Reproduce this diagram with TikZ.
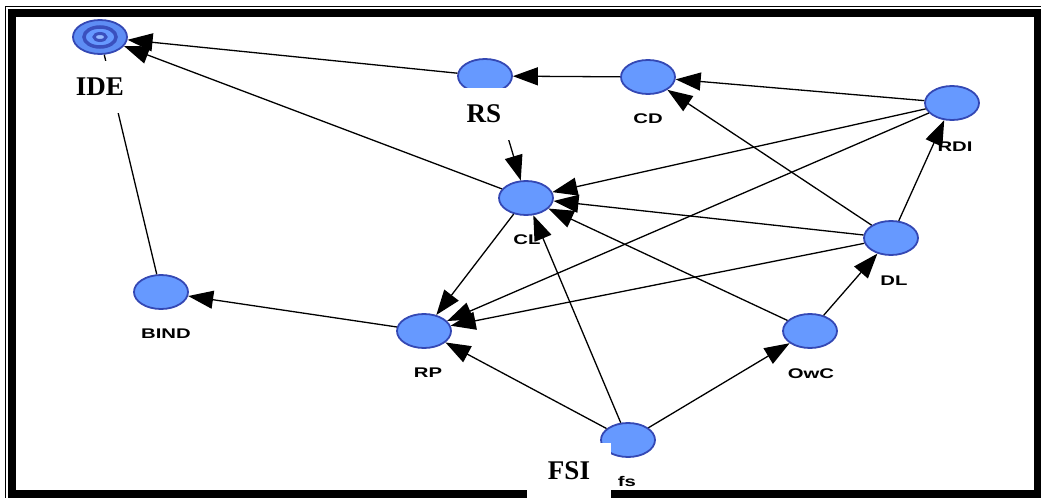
\documentclass[tikz,border=0pt]{standalone}
\usepackage{fontspec}
\setmainfont{Liberation Serif}
\newfontfamily\nodefont[FakeStretch=1.45]{Liberation Sans}
\usetikzlibrary{shapes.geometric, arrows.meta, positioning}
\definecolor{ballfill}{RGB}{102,153,255}
\definecolor{ballrim}{RGB}{52,72,180}
\definecolor{ringblue}{RGB}{58,80,190}

\begin{document}
\begin{tikzpicture}[x=1pt, y=-1pt,
    ball/.style={ellipse, draw=ballrim, fill=ballfill, line width=1.8pt, minimum width=54pt, minimum height=34pt, inner sep=0pt},
    lbl/.style={anchor=base, inner sep=0pt, font=\nodefont\bfseries\fontsize{14}{16}\selectfont},
    tag/.style={fill=white, inner sep=0pt, font=\bfseries\fontsize{27}{30}\selectfont},
    link/.style={line width=1.3pt, -{Triangle[length=25pt,width=18pt]}},
    plain/.style={line width=1.3pt}
]
\useasboundingbox (0,0) rectangle (1041,498);

% Frame
\draw[line width=8pt] (12,13) rectangle (1038,494);
\draw[line width=1.2pt] (1041,6.5) -- (5.5,6.5) -- (5.5,498);

% Nodes
\node[ball, fill=ballfill!85!ballrim] (ide) at (100,37) {};
\node[ball] (rs) at (485,76) {};
\node[ball] (cd) at (648,77) {};
\node[ball] (rdi) at (952,103) {};
\node[ball] (dl) at (891,238) {};
\node[ball] (cl) at (526,198) {};
\node[ball] (rp) at (424,331) {};
\node[ball] (bind) at (161,292) {};
\node[ball] (owc) at (810,331) {};
\node[ball] (fs) at (628,440) {};

% Target rings
\draw[ringblue, fill=ballfill, line width=3.5pt] (ide.center) ellipse (16pt and 10pt);
\draw[ringblue, fill=ballfill!70!white, line width=3pt] (ide.center) ellipse (6pt and 3.5pt);

% Edges
\draw[link] (rs) -- (ide);
\draw[link] (cl) -- (ide);
\draw[plain] (bind) -- (ide);
\draw[link] (cd) -- (rs);
\draw[link] (rdi) -- (cd);
\draw[link] (dl) -- (cd);
\draw[link] (rdi) -- (cl);
\draw[link] (rdi) -- (rp);
\draw[link] (dl) -- (cl);
\draw[link] (dl) -- (rp);
\draw[link] (dl) -- (rdi);
\draw[link] (owc) -- (dl);
\draw[link] (owc) -- (cl);
\draw[link] (fs) -- (cl);
\draw[link] (fs) -- (rp);
\draw[link] (fs) -- (owc);
\draw[link] (cl) -- (rp);
\draw[link] (rp) -- (bind);
\draw[link] (rs.-60) -- (cl);

% Labels
\node[lbl] (cdlbl) at (648,123) {CD};
\node[lbl] (rdilbl) at (955,151) {RDI};
\node[lbl] (dllbl) at (894,285) {DL};
\node[lbl] (cllbl) at (527,244) {CL};
\node[lbl] (rplbl) at (428,377) {RP};
\node[lbl] (bindlbl) at (166,338) {BIND};
\node[lbl] (owclbl) at (811,378) {OwC};
\node[lbl] (fslbl) at (627,486) {fs};

% Pasted tags
\node[tag, minimum width=64pt, minimum height=52pt] (idetag) at (100,87) {IDE};
\node[tag, minimum width=64pt, minimum height=52pt] (rstag) at (484,114) {RS};
\node[tag, minimum width=84pt, minimum height=56pt] (fsitag) at (569,471) {FSI};

\end{tikzpicture}
\end{document}
